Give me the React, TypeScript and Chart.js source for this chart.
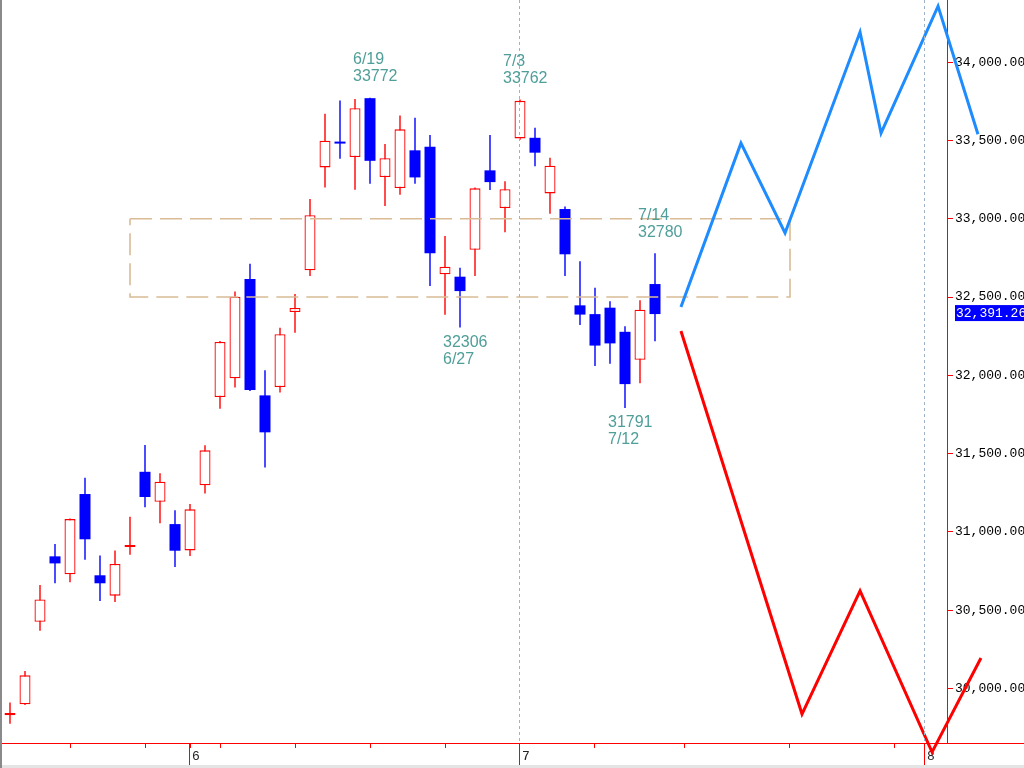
import { useEffect, useRef } from 'react';
import { Chart, registerables } from 'chart.js';

Chart.register(...registerables);

// ---- data ----
const dates = ['5/16','5/17','5/18','5/19','5/22','5/23','5/24','5/25','5/26','5/29','5/30','5/31','6/1','6/2','6/5','6/6','6/7','6/8','6/9','6/12','6/13','6/14','6/15','6/16','6/19','6/20','6/21','6/22','6/23','6/26','6/27','6/28','6/29','6/30','7/3','7/4','7/5','7/6','7/7','7/10','7/11','7/12','7/13','7/14'];
const opens = [29830, 29899, 30426, 30844, 30729, 31242, 30723, 30593, 30904, 31384, 31193, 31050, 30882, 31298, 31861, 31981, 32615, 31872, 31925, 32404, 32671, 33328, 33492, 33394, 33770, 33266, 33196, 33437, 33460, 32645, 32630, 32802, 33309, 33068, 33513, 33517, 33162, 33062, 32447, 32391, 32432, 32278, 32100, 32583];
const highs = [29910, 30112, 30661, 30923, 31086, 31346, 30850, 30882, 31097, 31555, 31374, 31138, 31178, 31553, 32220, 32536, 32713, 32032, 32304, 32519, 33126, 33671, 33755, 33765, 33772, 33477, 33660, 33645, 33535, 32890, 32687, 33200, 33535, 33239, 33762, 33581, 33390, 33079, 32728, 32559, 32473, 32313, 32479, 32780];
const lows = [29775, 29895, 30369, 30672, 30678, 30822, 30559, 30552, 30854, 31157, 31055, 30776, 30846, 31246, 31787, 31923, 31900, 31412, 31891, 32272, 32634, 33200, 33383, 33185, 33224, 33081, 33153, 33224, 32570, 32387, 32306, 32634, 33183, 32913, 33505, 33335, 33032, 32634, 32321, 32059, 32074, 31791, 31949, 32217];
const closes = [29843, 30084, 30569, 30799, 31082, 30953, 30672, 30795, 30916, 31223, 31321, 30880, 31144, 31521, 32213, 32502, 31906, 31636, 32262, 32430, 33022, 33498, 33480, 33706, 33370, 33386, 33571, 33264, 32779, 32693, 32538, 33194, 33234, 33188, 33753, 33422, 33338, 32773, 32388, 32190, 32204, 31944, 32419, 32391.26];

// marked highs / lows (candle indices)
const highMarkIdx = [24, 34, 43];
const lowMarkIdx = [30, 41];

// forecast lines (x in trading-day index units)
const blueX = [44.73, 48.73, 51.67, 56.67, 58.07, 61.87, 64.53];
const blueY = [32436, 33483, 32909, 34192, 33547, 34358, 33540];
const redX = [44.73, 52.8, 56.67, 61.47, 64.73];
const redY = [32283, 29837, 30623, 29594, 30195];

// dashed zone
const zoneX = [8, 52];
const zoneY = [33000, 32500];

// axes
const yTicks = [30000, 30500, 31000, 31500, 32000, 32500, 33000, 33500, 34000];
const xTicks = [4, 9, 12, 14, 19, 24, 29, 34, 39, 45, 52, 59, 61];
const monthTickIdx = [12, 34, 61];
const monthLabels = ['6', '7', '8'];
const dottedMonthIdx = [34, 61];

const UP = '#ff0000';
const DOWN = '#0000ff';
const TEAL = '#4f9e99';

const fmt = (v: number) =>
  new Intl.NumberFormat('en-US', { minimumFractionDigits: 2, maximumFractionDigits: 2 }).format(v);

export default function App() {
  const ref = useRef<HTMLCanvasElement | null>(null);

  useEffect(() => {
    if (!ref.current) return;
    const isUp = (i: number) => closes[i] >= opens[i];

    const overlay = {
      id: 'overlay',
      afterDatasetsDraw(chart: any) {
        const { ctx, scales, chartArea } = chart;
        const xs = scales.x;
        const ys = scales.y;
        ctx.save();
        // dotted month lines
        ctx.strokeStyle = '#9fb3c8';
        ctx.lineWidth = 1;
        ctx.setLineDash([3, 3]);
        dottedMonthIdx.forEach((m) => {
          const px = Math.round(xs.getPixelForValue(m)) - 0.5;
          ctx.beginPath();
          ctx.moveTo(px, chartArea.top);
          ctx.lineTo(px, chartArea.bottom);
          ctx.stroke();
        });
        ctx.setLineDash([]);
        // annotations
        ctx.fillStyle = TEAL;
        ctx.font = '16px "Liberation Sans", Arial, sans-serif';
        ctx.textAlign = 'left';
        ctx.textBaseline = 'middle';
        highMarkIdx.forEach((i) => {
          const px = xs.getPixelForValue(i) - 17;
          const py = ys.getPixelForValue(highs[i]);
          ctx.fillText(dates[i], px, py - 38);
          ctx.fillText(String(Math.round(highs[i])), px, py - 21);
        });
        lowMarkIdx.forEach((i) => {
          const px = xs.getPixelForValue(i) - 17;
          const py = ys.getPixelForValue(lows[i]);
          ctx.fillText(String(Math.round(lows[i])), px, py + 15);
          ctx.fillText(dates[i], px, py + 32);
        });
        ctx.restore();
      },
      afterDraw(chart: any) {
        const { ctx, scales, chartArea, width, height } = chart;
        const xs = scales.x;
        const ys = scales.y;
        ctx.save();
        // x axis line across the full width
        ctx.strokeStyle = UP;
        ctx.lineWidth = 1;
        ctx.beginPath();
        ctx.moveTo(chartArea.right, chartArea.bottom + 0.5);
        ctx.lineTo(width, chartArea.bottom + 0.5);
        ctx.stroke();
        // long month ticks
        monthTickIdx.forEach((m) => {
          const px = Math.round(xs.getPixelForValue(m)) - 0.5;
          ctx.beginPath();
          ctx.moveTo(px, chartArea.bottom);
          ctx.lineTo(px, height);
          ctx.stroke();
        });
        // last price tag
        const last = closes[closes.length - 1];
        const py = ys.getPixelForValue(last);
        ctx.fillStyle = DOWN;
        ctx.fillRect(chartArea.right + 8, py - 9, width - chartArea.right - 8, 16);
        ctx.fillStyle = '#ffffff';
        ctx.font = '13px "Liberation Mono", "DejaVu Sans Mono", monospace';
        ctx.textAlign = 'left';
        ctx.textBaseline = 'middle';
        ctx.fillText(fmt(last), chartArea.right + 9, py - 1);
        // window frame details
        ctx.fillStyle = '#8a8a8a';
        ctx.fillRect(0, 0, 2, height);
        ctx.fillStyle = '#e4e4e4';
        ctx.fillRect(2, height - 3, width - 2, 3);
        ctx.restore();
      },
    };

    const chart = new Chart(ref.current, {
      type: 'bar',
      data: {
        datasets: [
          {
            type: 'line',
            label: 'forecast-blue',
            data: blueX.map((x, i) => ({ x, y: blueY[i] })),
            borderColor: '#1e8cff',
            borderWidth: 3,
            pointRadius: 0,
            tension: 0,
            clip: false,
            order: 0,
          } as any,
          {
            type: 'line',
            label: 'forecast-red',
            data: redX.map((x, i) => ({ x, y: redY[i] })),
            borderColor: '#ff0000',
            borderWidth: 3,
            pointRadius: 0,
            tension: 0,
            clip: false,
            order: 0,
          } as any,
          {
            type: 'line',
            label: 'zone',
            data: [
              { x: zoneX[0], y: zoneY[0] },
              { x: zoneX[1], y: zoneY[0] },
              { x: zoneX[1], y: zoneY[1] },
              { x: zoneX[0], y: zoneY[1] },
              { x: zoneX[0], y: zoneY[0] },
            ],
            borderColor: '#d9bc96',
            borderWidth: 1.6,
            borderDash: [22, 8],
            pointRadius: 0,
            tension: 0,
            order: 1,
          } as any,
          {
            type: 'bar',
            label: 'body',
            data: opens.map((o, i) => ({ x: i, y: [o, closes[i]] })),
            backgroundColor: (c: any) => (isUp(c.dataIndex) ? '#ffffff' : DOWN),
            borderColor: (c: any) => (isUp(c.dataIndex) ? UP : DOWN),
            borderWidth: (c: any) => (isUp(c.dataIndex) ? 1.3 : 0),
            borderSkipped: false,
            barThickness: 11,
            minBarLength: 2,
            grouped: false,
            inflateAmount: 0,
            order: 2,
          } as any,
          {
            type: 'bar',
            label: 'wick',
            data: lows.map((l, i) => ({ x: i, y: [l, highs[i]] })),
            backgroundColor: (c: any) => (isUp(c.dataIndex) ? UP : DOWN),
            borderWidth: 0,
            barThickness: 1.4,
            grouped: false,
            inflateAmount: 0,
            order: 3,
          } as any,
        ],
      },
      options: {
        animation: false,
        responsive: false,
        maintainAspectRatio: false,
        layout: { padding: 0 },
        plugins: { legend: { display: false }, tooltip: { enabled: false } },
        events: [],
        scales: {
          x: {
            type: 'linear',
            position: 'bottom',
            min: -0.6667,
            max: 62.4667,
            offset: false,
            afterBuildTicks: (s: any) => {
              s.ticks = xTicks.map((v) => ({ value: v }));
            },
            afterFit: (s: any) => {
              s.height = 25;
              s.paddingLeft = 0;
              s.paddingRight = 0;
            },
            grid: {
              offset: false,
              drawOnChartArea: false,
              drawTicks: true,
              tickLength: 5,
              color: UP,
              tickColor: UP,
            },
            border: { display: true, color: UP, width: 1 },
            ticks: {
              autoSkip: false,
              maxRotation: 0,
              minRotation: 0,
              align: 'start',
              labelOffset: 2,
              padding: 1,
              color: '#222',
              font: { family: '"Liberation Mono", "DejaVu Sans Mono", monospace', size: 13 },
              callback: (v: any) => {
                const k = monthTickIdx.indexOf(Number(v));
                return k >= 0 ? monthLabels[k] : '';
              },
            },
          } as any,
          y: {
            type: 'linear',
            position: 'right',
            min: 29652,
            max: 34397,
            afterBuildTicks: (s: any) => {
              s.ticks = yTicks.map((v) => ({ value: v }));
            },
            afterFit: (s: any) => {
              s.width = 77;
              s.paddingTop = 0;
              s.paddingBottom = 0;
            },
            grid: {
              drawOnChartArea: false,
              drawTicks: true,
              tickLength: 6,
              color: UP,
              tickColor: UP,
            },
            border: { display: true, color: UP, width: 1 },
            ticks: {
              padding: 2,
              color: '#000',
              font: { family: '"Liberation Mono", "DejaVu Sans Mono", monospace', size: 13 },
              callback: (v: any) => fmt(Number(v)),
            },
          } as any,
        },
      },
      plugins: [overlay],
    } as any);

    return () => chart.destroy();
  }, []);

  return (
    <div style={{ position: 'fixed', left: 0, top: 0, width: 1024, height: 768, background: '#ffffff' }}>
      <canvas ref={ref} width={1024} height={768} style={{ display: 'block', width: 1024, height: 768 }} />
    </div>
  );
}
